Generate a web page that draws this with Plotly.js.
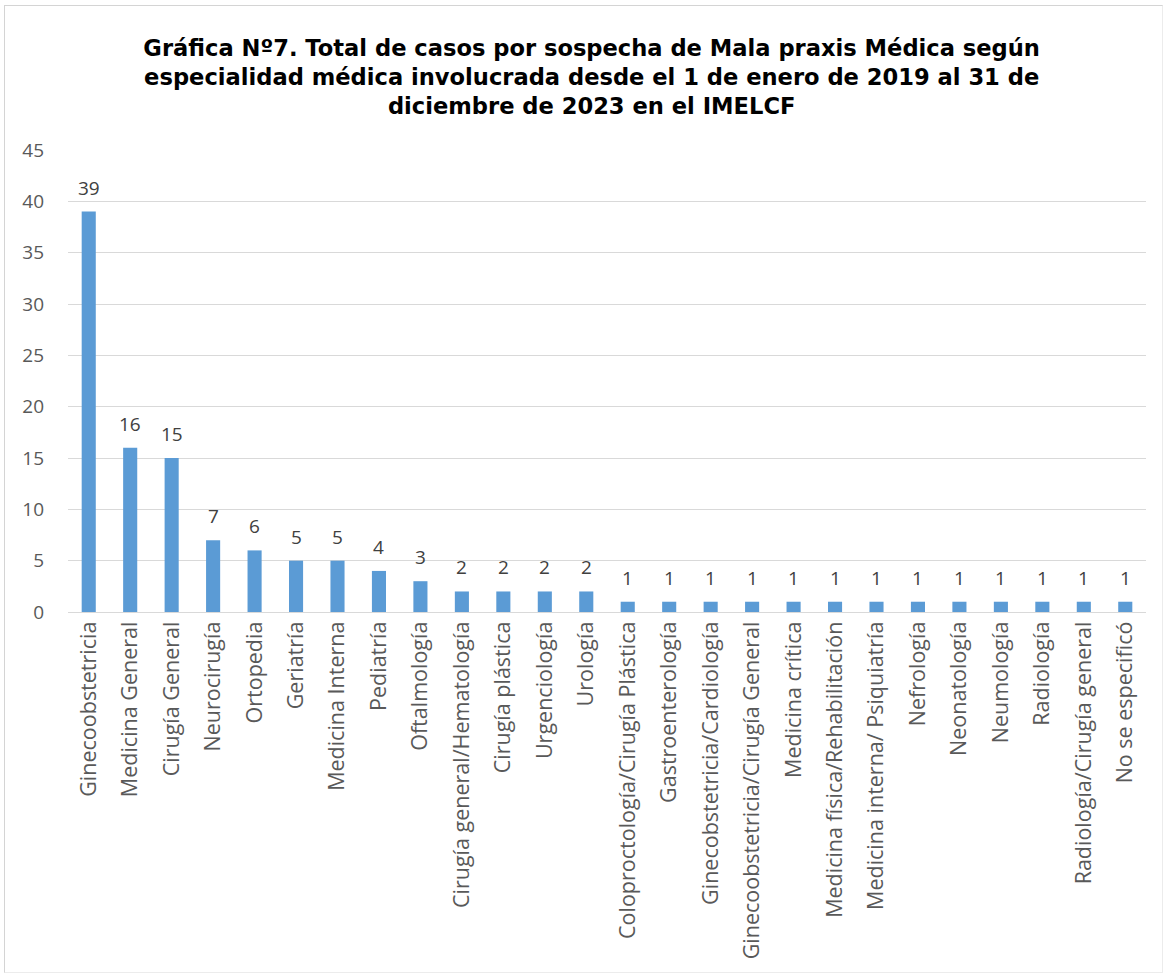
<!DOCTYPE html>
<html>
<head>
<meta charset="utf-8">
<script src="https://cdn.plot.ly/plotly-3.0.1.min.js"></script>
<style>
html,body{margin:0;padding:0;background:#fff;}
#chart{width:1167px;height:974px;}
#frame{position:absolute;left:4px;top:5px;width:1157px;height:966px;border:1px solid #d4d4d4;border-right-color:#ececec;border-bottom-color:#ececec;pointer-events:none;}
</style>
</head>
<body>
<div id="chart"></div>
<div id="frame"></div>
<script>
const categories = [
  "Ginecoobstetricia","Medicina General","Cirugía General","Neurocirugía","Ortopedia",
  "Geriatría","Medicina Interna","Pediatría","Oftalmología","Cirugía general/Hematología",
  "Cirugía plástica","Urgenciología","Urología","Coloproctología/Cirugía Plástica","Gastroenterología",
  "Ginecobstetricia/Cardiología","Ginecoobstetricia/Cirugía General","Medicina crítica","Medicina física/Rehabilitación","Medicina interna/ Psiquiatría",
  "Nefrología","Neonatología","Neumología","Radiología","Radiología/Cirugía general","No se especificó"
];
const casos = [39,16,15,7,6,5,5,4,3,2,2,2,2,1,1,1,1,1,1,1,1,1,1,1,1,1];
const yTicks = [0,5,10,15,20,25,30,35,40,45];

const trace = {
  type: 'bar',
  x: categories,
  y: casos,
  marker: {color: '#5B9BD5'},
  hoverinfo: 'x+y'
};

const labels = categories.map((c, i) => ({
  x: c, y: casos[i], xref: 'x', yref: 'y',
  text: String(casos[i]), showarrow: false,
  yanchor: 'bottom', yshift: 9,
  font: {family: 'Open Sans, sans-serif', size: 19, color: '#404040'}
}));

const layout = {
  width: 1167, height: 974,
  margin: {l: 68, r: 21, t: 150, b: 362},
  paper_bgcolor: '#ffffff',
  plot_bgcolor: '#ffffff',
  bargap: 0.66,
  showlegend: false,
  annotations: labels,
  title: {
    text: 'Gráfica Nº7. Total de casos por sospecha de Mala praxis Médica según<br>especialidad médica involucrada desde el 1 de enero de 2019 al 31 de<br>diciembre de 2023 en el IMELCF',
    font: {family: 'DejaVu Sans, sans-serif', size: 22.6, color: '#000000', weight: 'bold'},
    x: 0.507, xanchor: 'center', y: 0.943, yanchor: 'top'
  },
  xaxis: {
    type: 'category',
    tickangle: -90,
    tickfont: {family: 'Open Sans, sans-serif', size: 21.5, color: '#595959'},
    showline: true, linecolor: '#d9d9d9', linewidth: 1,
    ticks: '', showgrid: false, zeroline: false
  },
  yaxis: {
    range: [0, 45],
    tickvals: yTicks,
    ticktext: yTicks.map(String),
    tickfont: {family: 'Open Sans, sans-serif', size: 19, color: '#595959'},
    ticklabelstandoff: 23,
    showgrid: true, gridcolor: '#d9d9d9', gridwidth: 1,
    zeroline: false, showline: false, ticks: ''
  }
};

Plotly.newPlot('chart', [trace], layout, {displayModeBar: false, staticPlot: true});
</script>
</body>
</html>
